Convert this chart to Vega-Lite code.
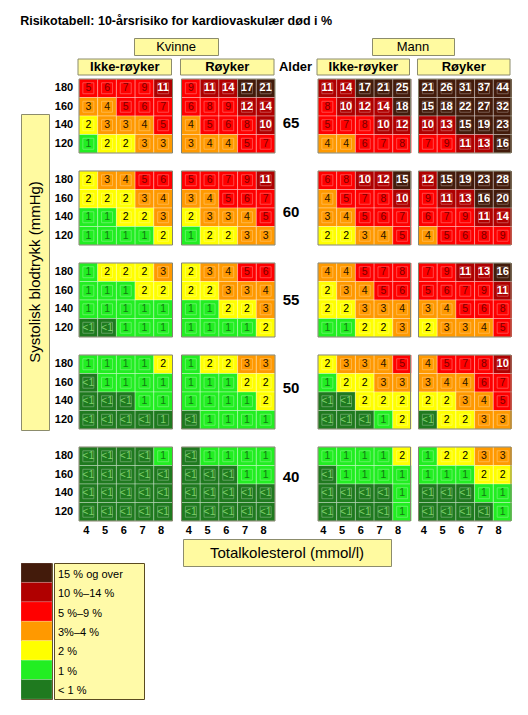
{
 "$schema": "https://vega.github.io/schema/vega-lite/v6.json",
 "padding": {"left": 20, "top": 15, "right": 0, "bottom": 0},
 "background": "white",
 "title": {"text": "Risikotabell: 10-årsrisiko for kardiovaskulær død i %", "anchor": "start", "fontSize": 12.5, "fontWeight": "bold", "font": "Liberation Sans", "offset": 10, "color": "#000000"},
 "datasets": {
  "cells": [
   {"sex":"K","sm":"Ikke-røyker","age":65,"bp":180,"4":5,"5":6,"6":7,"7":9,"8":11},
   {"sex":"K","sm":"Ikke-røyker","age":65,"bp":160,"4":3,"5":4,"6":5,"7":6,"8":7},
   {"sex":"K","sm":"Ikke-røyker","age":65,"bp":140,"4":2,"5":3,"6":3,"7":4,"8":5},
   {"sex":"K","sm":"Ikke-røyker","age":65,"bp":120,"4":1,"5":2,"6":2,"7":3,"8":3},
   {"sex":"K","sm":"Ikke-røyker","age":60,"bp":180,"4":2,"5":3,"6":4,"7":5,"8":6},
   {"sex":"K","sm":"Ikke-røyker","age":60,"bp":160,"4":2,"5":2,"6":2,"7":3,"8":4},
   {"sex":"K","sm":"Ikke-røyker","age":60,"bp":140,"4":1,"5":1,"6":2,"7":2,"8":3},
   {"sex":"K","sm":"Ikke-røyker","age":60,"bp":120,"4":1,"5":1,"6":1,"7":1,"8":2},
   {"sex":"K","sm":"Ikke-røyker","age":55,"bp":180,"4":1,"5":2,"6":2,"7":2,"8":3},
   {"sex":"K","sm":"Ikke-røyker","age":55,"bp":160,"4":1,"5":1,"6":1,"7":2,"8":2},
   {"sex":"K","sm":"Ikke-røyker","age":55,"bp":140,"4":1,"5":1,"6":1,"7":1,"8":1},
   {"sex":"K","sm":"Ikke-røyker","age":55,"bp":120,"4":0,"5":0,"6":1,"7":1,"8":1},
   {"sex":"K","sm":"Ikke-røyker","age":50,"bp":180,"4":1,"5":1,"6":1,"7":1,"8":2},
   {"sex":"K","sm":"Ikke-røyker","age":50,"bp":160,"4":0,"5":1,"6":1,"7":1,"8":1},
   {"sex":"K","sm":"Ikke-røyker","age":50,"bp":140,"4":0,"5":0,"6":0,"7":1,"8":1},
   {"sex":"K","sm":"Ikke-røyker","age":50,"bp":120,"4":0,"5":0,"6":0,"7":0,"8":0.9},
   {"sex":"K","sm":"Ikke-røyker","age":40,"bp":180,"4":0,"5":0,"6":0,"7":0,"8":1},
   {"sex":"K","sm":"Ikke-røyker","age":40,"bp":160,"4":0,"5":0,"6":0,"7":0,"8":0},
   {"sex":"K","sm":"Ikke-røyker","age":40,"bp":140,"4":0,"5":0,"6":0,"7":0,"8":0},
   {"sex":"K","sm":"Ikke-røyker","age":40,"bp":120,"4":0,"5":0,"6":0,"7":0,"8":0},
   {"sex":"K","sm":"Røyker","age":65,"bp":180,"4":9,"5":11,"6":14,"7":17,"8":21},
   {"sex":"K","sm":"Røyker","age":65,"bp":160,"4":6,"5":8,"6":9,"7":12,"8":14},
   {"sex":"K","sm":"Røyker","age":65,"bp":140,"4":4,"5":5,"6":6,"7":8,"8":10},
   {"sex":"K","sm":"Røyker","age":65,"bp":120,"4":3,"5":4,"6":4,"7":5,"8":7},
   {"sex":"K","sm":"Røyker","age":60,"bp":180,"4":5,"5":6,"6":7,"7":9,"8":11},
   {"sex":"K","sm":"Røyker","age":60,"bp":160,"4":3,"5":4,"6":5,"7":6,"8":7},
   {"sex":"K","sm":"Røyker","age":60,"bp":140,"4":2,"5":3,"6":3,"7":4,"8":5},
   {"sex":"K","sm":"Røyker","age":60,"bp":120,"4":1,"5":2,"6":2,"7":3,"8":3},
   {"sex":"K","sm":"Røyker","age":55,"bp":180,"4":2,"5":3,"6":4,"7":5,"8":6},
   {"sex":"K","sm":"Røyker","age":55,"bp":160,"4":2,"5":2,"6":3,"7":3,"8":4},
   {"sex":"K","sm":"Røyker","age":55,"bp":140,"4":1,"5":1,"6":2,"7":2,"8":3},
   {"sex":"K","sm":"Røyker","age":55,"bp":120,"4":1,"5":1,"6":1,"7":1,"8":2},
   {"sex":"K","sm":"Røyker","age":50,"bp":180,"4":1,"5":2,"6":2,"7":3,"8":3},
   {"sex":"K","sm":"Røyker","age":50,"bp":160,"4":1,"5":1,"6":1,"7":2,"8":2},
   {"sex":"K","sm":"Røyker","age":50,"bp":140,"4":1,"5":1,"6":1,"7":1,"8":2},
   {"sex":"K","sm":"Røyker","age":50,"bp":120,"4":0,"5":1,"6":1,"7":1,"8":1},
   {"sex":"K","sm":"Røyker","age":40,"bp":180,"4":0,"5":1,"6":1,"7":1,"8":1},
   {"sex":"K","sm":"Røyker","age":40,"bp":160,"4":0,"5":0,"6":0,"7":1,"8":1},
   {"sex":"K","sm":"Røyker","age":40,"bp":140,"4":0,"5":0,"6":0,"7":0,"8":0},
   {"sex":"K","sm":"Røyker","age":40,"bp":120,"4":0,"5":0,"6":0,"7":0,"8":0},
   {"sex":"M","sm":"Ikke-røyker","age":65,"bp":180,"4":11,"5":14,"6":17,"7":21,"8":25},
   {"sex":"M","sm":"Ikke-røyker","age":65,"bp":160,"4":8,"5":10,"6":12,"7":14,"8":18},
   {"sex":"M","sm":"Ikke-røyker","age":65,"bp":140,"4":5,"5":7,"6":8,"7":10,"8":12},
   {"sex":"M","sm":"Ikke-røyker","age":65,"bp":120,"4":4,"5":4,"6":6,"7":7,"8":8},
   {"sex":"M","sm":"Ikke-røyker","age":60,"bp":180,"4":6,"5":8,"6":10,"7":12,"8":15},
   {"sex":"M","sm":"Ikke-røyker","age":60,"bp":160,"4":4,"5":5,"6":7,"7":8,"8":10},
   {"sex":"M","sm":"Ikke-røyker","age":60,"bp":140,"4":3,"5":4,"6":5,"7":6,"8":7},
   {"sex":"M","sm":"Ikke-røyker","age":60,"bp":120,"4":2,"5":2,"6":3,"7":4,"8":5},
   {"sex":"M","sm":"Ikke-røyker","age":55,"bp":180,"4":4,"5":4,"6":5,"7":7,"8":8},
   {"sex":"M","sm":"Ikke-røyker","age":55,"bp":160,"4":2,"5":3,"6":4,"7":5,"8":6},
   {"sex":"M","sm":"Ikke-røyker","age":55,"bp":140,"4":2,"5":2,"6":3,"7":3,"8":4},
   {"sex":"M","sm":"Ikke-røyker","age":55,"bp":120,"4":1,"5":1,"6":2,"7":2,"8":3},
   {"sex":"M","sm":"Ikke-røyker","age":50,"bp":180,"4":2,"5":3,"6":3,"7":4,"8":5},
   {"sex":"M","sm":"Ikke-røyker","age":50,"bp":160,"4":1,"5":2,"6":2,"7":3,"8":3},
   {"sex":"M","sm":"Ikke-røyker","age":50,"bp":140,"4":0,"5":0,"6":2,"7":2,"8":2},
   {"sex":"M","sm":"Ikke-røyker","age":50,"bp":120,"4":0,"5":0,"6":0,"7":1,"8":2},
   {"sex":"M","sm":"Ikke-røyker","age":40,"bp":180,"4":1,"5":1,"6":1,"7":1,"8":2},
   {"sex":"M","sm":"Ikke-røyker","age":40,"bp":160,"4":0,"5":1,"6":1,"7":1,"8":1},
   {"sex":"M","sm":"Ikke-røyker","age":40,"bp":140,"4":0,"5":0,"6":0,"7":0,"8":1},
   {"sex":"M","sm":"Ikke-røyker","age":40,"bp":120,"4":0,"5":0,"6":0,"7":0,"8":1},
   {"sex":"M","sm":"Røyker","age":65,"bp":180,"4":21,"5":26,"6":31,"7":37,"8":44},
   {"sex":"M","sm":"Røyker","age":65,"bp":160,"4":15,"5":18,"6":22,"7":27,"8":32},
   {"sex":"M","sm":"Røyker","age":65,"bp":140,"4":10,"5":13,"6":15,"7":19,"8":23},
   {"sex":"M","sm":"Røyker","age":65,"bp":120,"4":7,"5":9,"6":11,"7":13,"8":16},
   {"sex":"M","sm":"Røyker","age":60,"bp":180,"4":12,"5":15,"6":19,"7":23,"8":28},
   {"sex":"M","sm":"Røyker","age":60,"bp":160,"4":9,"5":11,"6":13,"7":16,"8":20},
   {"sex":"M","sm":"Røyker","age":60,"bp":140,"4":6,"5":7,"6":9,"7":11,"8":14},
   {"sex":"M","sm":"Røyker","age":60,"bp":120,"4":4,"5":5,"6":6,"7":8,"8":9},
   {"sex":"M","sm":"Røyker","age":55,"bp":180,"4":7,"5":9,"6":11,"7":13,"8":16},
   {"sex":"M","sm":"Røyker","age":55,"bp":160,"4":5,"5":6,"6":7,"7":9,"8":11},
   {"sex":"M","sm":"Røyker","age":55,"bp":140,"4":3,"5":4,"6":5,"7":6,"8":8},
   {"sex":"M","sm":"Røyker","age":55,"bp":120,"4":2,"5":3,"6":3,"7":4,"8":5},
   {"sex":"M","sm":"Røyker","age":50,"bp":180,"4":4,"5":5,"6":7,"7":8,"8":10},
   {"sex":"M","sm":"Røyker","age":50,"bp":160,"4":3,"5":4,"6":4,"7":6,"8":7},
   {"sex":"M","sm":"Røyker","age":50,"bp":140,"4":2,"5":2,"6":3,"7":4,"8":5},
   {"sex":"M","sm":"Røyker","age":50,"bp":120,"4":0,"5":2,"6":2,"7":3,"8":3},
   {"sex":"M","sm":"Røyker","age":40,"bp":180,"4":1,"5":2,"6":2,"7":3,"8":3},
   {"sex":"M","sm":"Røyker","age":40,"bp":160,"4":1,"5":1,"6":1,"7":2,"8":2},
   {"sex":"M","sm":"Røyker","age":40,"bp":140,"4":0,"5":0,"6":0,"7":1,"8":1},
   {"sex":"M","sm":"Røyker","age":40,"bp":120,"4":0,"5":0,"6":0,"7":0,"8":1}
  ],
  "legend": [
   {"risk": 15, "label": "15 % og over"},
   {"risk": 10, "label": "10 %–14 %"},
   {"risk": 5, "label": "5 %–9 %"},
   {"risk": 3, "label": "3%–4 %"},
   {"risk": 2, "label": "2 %"},
   {"risk": 1, "label": "1 %"},
   {"risk": 0, "label": "< 1 %"}
  ]
 },
 "spacing": 2,
 "vconcat": [
  {
   "spacing": 0,
   "hconcat": [
    {"width": 112, "height": 17, "data": {"values": [{}]}, "mark": "text", "encoding": {"text": {"value": ""}}},
    {"width": 84, "height": 17, "data": {"values": [{"t": "Kvinne"}]}, "view": {"fill": "#fffaa0", "stroke": "#8c8c6c"},
     "mark": {"type": "text", "font": "Liberation Sans", "fontSize": 13, "baseline": "middle", "align": "center", "color": "#000000"},
     "encoding": {"text": {"field": "t"}}},
    {"width": 152, "height": 17, "data": {"values": [{}]}, "mark": "text", "encoding": {"text": {"value": ""}}},
    {"width": 82, "height": 17, "data": {"values": [{"t": "Mann"}]}, "view": {"fill": "#fffaa0", "stroke": "#8c8c6c"},
     "mark": {"type": "text", "font": "Liberation Sans", "fontSize": 13, "baseline": "middle", "align": "center", "color": "#000000"},
     "encoding": {"text": {"field": "t"}}}
   ]
  },
  {
   "spacing": 0,
   "hconcat": [
    {"width": 56, "height": 16, "data": {"values": [{}]}, "mark": "text", "encoding": {"text": {"value": ""}}},
    {"width": 196, "height": 16, "data": {"values": [{"sm": "Ikke-røyker"}, {"sm": "Røyker"}]},
     "encoding": {"x": {"field": "sm", "type": "nominal", "scale": {"domain": ["Ikke-røyker", "Røyker"], "paddingInner": 0.0878, "paddingOuter": 0}, "axis": null}},
     "layer": [
      {"mark": {"type": "rect", "fill": "#fffaa0", "stroke": "#8c8c6c", "strokeWidth": 1}},
      {"mark": {"type": "text", "font": "Liberation Sans", "fontSize": 13, "fontWeight": "bold", "baseline": "middle", "color": "#000000"}, "encoding": {"text": {"field": "sm"}}}
     ]},
    {"width": 41, "height": 16, "data": {"values": [{"t": "Alder"}]},
     "mark": {"type": "text", "font": "Liberation Sans", "fontSize": 13, "fontWeight": "bold", "baseline": "middle", "align": "center", "color": "#000000"},
     "encoding": {"text": {"field": "t"}}},
    {"width": 193, "height": 16, "data": {"values": [{"sm": "Ikke-røyker"}, {"sm": "Røyker"}]},
     "encoding": {"x": {"field": "sm", "type": "nominal", "scale": {"domain": ["Ikke-røyker", "Røyker"], "paddingInner": 0.0796, "paddingOuter": 0}, "axis": null}},
     "layer": [
      {"mark": {"type": "rect", "fill": "#fffaa0", "stroke": "#8c8c6c", "strokeWidth": 1}},
      {"mark": {"type": "text", "font": "Liberation Sans", "fontSize": 13, "fontWeight": "bold", "baseline": "middle", "color": "#000000"}, "encoding": {"text": {"field": "sm"}}}
     ]}
   ]
  },
  {
   "spacing": 0,
   "hconcat": [
    {"spacing": 0, "vconcat": [
      {"width": 28, "height": 34, "data": {"values": [{}]}, "mark": "text", "encoding": {"text": {"value": ""}}},
      {"width": 28, "height": 316, "data": {"values": [{"t": "Systolisk blodtrykk (mmHg)"}]}, "view": {"fill": "#fffaa0", "stroke": "#8c8c6c"},
       "mark": {"type": "text", "font": "Liberation Sans", "fontSize": 15, "angle": 270, "baseline": "middle", "align": "center", "color": "#000000"},
       "encoding": {"text": {"field": "t"}}}
    ]},
    {"width": 28, "height": 442, "data": {"name": "cells"},
     "transform": [{"filter": "datum.sex == 'K' && datum.sm == 'Ikke-røyker'"}],
     "mark": {"type": "text", "font": "Liberation Sans", "fontSize": 11, "fontWeight": "bold", "baseline": "middle", "color": "#000000"},
     "encoding": {
      "y": {"field": "age", "type": "ordinal", "scale": {"domain": [65, 60, 55, 50, 40], "paddingInner": 0.19565, "paddingOuter": 0}, "axis": null},
      "yOffset": {"field": "bp", "type": "ordinal", "scale": {"domain": [180, 160, 140, 120], "paddingInner": 0, "paddingOuter": 0}},
      "text": {"field": "bp"}
     }},
    {"width": 196, "height": 442, "data": {"name": "cells"},
     "transform": [{"filter": "datum.sex == 'K'"}, {"fold": ["4", "5", "6", "7", "8"], "as": ["chol", "risk"]}],
     "layer": [
      {"encoding": {
        "x": {"field": "sm", "type": "nominal", "scale": {"domain": ["Ikke-røyker", "Røyker"], "paddingInner": 0.0878, "paddingOuter": 0}, "axis": null},
        "xOffset": {"field": "chol", "type": "nominal", "scale": {"domain": ["4", "5", "6", "7", "8"], "paddingInner": 0, "paddingOuter": 0}},
        "y": {"field": "age", "type": "ordinal", "scale": {"domain": [65, 60, 55, 50, 40], "paddingInner": 0.19565, "paddingOuter": 0}, "axis": null},
        "yOffset": {"field": "bp", "type": "ordinal", "scale": {"domain": [180, 160, 140, 120], "paddingInner": 0, "paddingOuter": 0}}
       },
       "layer": [
        {"mark": {"type": "rect", "stroke": "#ffffff", "strokeOpacity": 0.45, "strokeWidth": 0.7},
         "encoding": {"fill": {"field": "risk", "type": "quantitative", "scale": {"type": "threshold", "domain": [1, 2, 3, 5, 10, 15], "range": ["#1f7a1f", "#22ee22", "#ffff00", "#ff9900", "#ff0000", "#b00000", "#431b0b"]}, "legend": null}}},
        {"mark": {"type": "point", "shape": "square", "size": 120, "filled": false, "color": "#ffffff", "opacity": 0.35, "strokeWidth": 0.8}},
        {"transform": [{"filter": "datum.risk < 10"}],
         "mark": {"type": "text", "font": "Liberation Sans", "fontSize": 10.5, "baseline": "middle"},
         "encoding": {
          "text": {"condition": {"test": "datum.risk == 0", "value": "<1"}, "field": "risk", "type": "quantitative", "format": ".0f"},
          "color": {"field": "risk", "type": "quantitative", "scale": {"type": "threshold", "domain": [1, 2, 3, 5, 10], "range": ["#7ccf6a", "#137a13", "#000000", "#2a1500", "#7a0000", "#ffffff"]}, "legend": null}
         }},
        {"transform": [{"filter": "datum.risk >= 10"}],
         "mark": {"type": "text", "font": "Liberation Sans", "fontSize": 11, "fontWeight": "bold", "baseline": "middle", "color": "#ffffff"},
         "encoding": {"text": {"field": "risk", "type": "quantitative", "format": ".0f"}}}
       ]},
      {"transform": [{"aggregate": [{"op": "count", "as": "n"}], "groupby": ["sm", "age"]}],
       "mark": {"type": "rect", "fill": "#ffffff", "fillOpacity": 0, "stroke": "#85856f", "strokeWidth": 1},
       "encoding": {
        "x": {"field": "sm", "type": "nominal", "scale": {"domain": ["Ikke-røyker", "Røyker"], "paddingInner": 0.0878, "paddingOuter": 0}, "axis": null},
        "y": {"field": "age", "type": "ordinal", "scale": {"domain": [65, 60, 55, 50, 40], "paddingInner": 0.19565, "paddingOuter": 0}, "axis": null}
       }}
     ]},
    {"width": 30, "height": 442, "data": {"name": "cells"},
     "transform": [{"filter": "datum.sex == 'K' && datum.sm == 'Ikke-røyker' && datum.bp == 180"}],
     "mark": {"type": "text", "font": "Liberation Sans", "fontSize": 15, "fontWeight": "bold", "baseline": "middle", "color": "#000000"},
     "encoding": {
      "y": {"field": "age", "type": "ordinal", "scale": {"domain": [65, 60, 55, 50, 40], "paddingInner": 0.19565, "paddingOuter": 0}, "axis": null},
      "text": {"field": "age"}
     }},
    {"width": 11, "height": 442, "data": {"values": [{}]}, "mark": "text", "encoding": {"text": {"value": ""}}},
    {"width": 193, "height": 442, "data": {"name": "cells"},
     "transform": [{"filter": "datum.sex == 'M'"}, {"fold": ["4", "5", "6", "7", "8"], "as": ["chol", "risk"]}],
     "layer": [
      {"encoding": {
        "x": {"field": "sm", "type": "nominal", "scale": {"domain": ["Ikke-røyker", "Røyker"], "paddingInner": 0.0796, "paddingOuter": 0}, "axis": null},
        "xOffset": {"field": "chol", "type": "nominal", "scale": {"domain": ["4", "5", "6", "7", "8"], "paddingInner": 0, "paddingOuter": 0}},
        "y": {"field": "age", "type": "ordinal", "scale": {"domain": [65, 60, 55, 50, 40], "paddingInner": 0.19565, "paddingOuter": 0}, "axis": null},
        "yOffset": {"field": "bp", "type": "ordinal", "scale": {"domain": [180, 160, 140, 120], "paddingInner": 0, "paddingOuter": 0}}
       },
       "layer": [
        {"mark": {"type": "rect", "stroke": "#ffffff", "strokeOpacity": 0.45, "strokeWidth": 0.7},
         "encoding": {"fill": {"field": "risk", "type": "quantitative", "scale": {"type": "threshold", "domain": [1, 2, 3, 5, 10, 15], "range": ["#1f7a1f", "#22ee22", "#ffff00", "#ff9900", "#ff0000", "#b00000", "#431b0b"]}, "legend": null}}},
        {"mark": {"type": "point", "shape": "square", "size": 120, "filled": false, "color": "#ffffff", "opacity": 0.35, "strokeWidth": 0.8}},
        {"transform": [{"filter": "datum.risk < 10"}],
         "mark": {"type": "text", "font": "Liberation Sans", "fontSize": 10.5, "baseline": "middle"},
         "encoding": {
          "text": {"condition": {"test": "datum.risk == 0", "value": "<1"}, "field": "risk", "type": "quantitative", "format": ".0f"},
          "color": {"field": "risk", "type": "quantitative", "scale": {"type": "threshold", "domain": [1, 2, 3, 5, 10], "range": ["#7ccf6a", "#137a13", "#000000", "#2a1500", "#7a0000", "#ffffff"]}, "legend": null}
         }},
        {"transform": [{"filter": "datum.risk >= 10"}],
         "mark": {"type": "text", "font": "Liberation Sans", "fontSize": 11, "fontWeight": "bold", "baseline": "middle", "color": "#ffffff"},
         "encoding": {"text": {"field": "risk", "type": "quantitative", "format": ".0f"}}}
       ]},
      {"transform": [{"aggregate": [{"op": "count", "as": "n"}], "groupby": ["sm", "age"]}],
       "mark": {"type": "rect", "fill": "#ffffff", "fillOpacity": 0, "stroke": "#85856f", "strokeWidth": 1},
       "encoding": {
        "x": {"field": "sm", "type": "nominal", "scale": {"domain": ["Ikke-røyker", "Røyker"], "paddingInner": 0.0796, "paddingOuter": 0}, "axis": null},
        "y": {"field": "age", "type": "ordinal", "scale": {"domain": [65, 60, 55, 50, 40], "paddingInner": 0.19565, "paddingOuter": 0}, "axis": null}
       }}
     ]}
   ]
  },
  {
   "spacing": 0,
   "hconcat": [
    {"width": 56, "height": 9, "data": {"values": [{}]}, "mark": "text", "encoding": {"text": {"value": ""}}},
    {"width": 196, "height": 9, "data": {"name": "cells"},
     "transform": [{"filter": "datum.sex == 'K' && datum.age == 40 && datum.bp == 120"}, {"fold": ["4", "5", "6", "7", "8"], "as": ["chol", "risk"]}],
     "mark": {"type": "text", "font": "Liberation Sans", "fontSize": 11, "fontWeight": "bold", "baseline": "middle", "color": "#000000"},
     "encoding": {
      "x": {"field": "sm", "type": "nominal", "scale": {"domain": ["Ikke-røyker", "Røyker"], "paddingInner": 0.0878, "paddingOuter": 0}, "axis": null},
      "xOffset": {"field": "chol", "type": "nominal", "scale": {"domain": ["4", "5", "6", "7", "8"], "paddingInner": 0, "paddingOuter": 0}},
      "text": {"field": "chol"}
     }},
    {"width": 41, "height": 9, "data": {"values": [{}]}, "mark": "text", "encoding": {"text": {"value": ""}}},
    {"width": 193, "height": 9, "data": {"name": "cells"},
     "transform": [{"filter": "datum.sex == 'M' && datum.age == 40 && datum.bp == 120"}, {"fold": ["4", "5", "6", "7", "8"], "as": ["chol", "risk"]}],
     "mark": {"type": "text", "font": "Liberation Sans", "fontSize": 11, "fontWeight": "bold", "baseline": "middle", "color": "#000000"},
     "encoding": {
      "x": {"field": "sm", "type": "nominal", "scale": {"domain": ["Ikke-røyker", "Røyker"], "paddingInner": 0.0796, "paddingOuter": 0}, "axis": null},
      "xOffset": {"field": "chol", "type": "nominal", "scale": {"domain": ["4", "5", "6", "7", "8"], "paddingInner": 0, "paddingOuter": 0}},
      "text": {"field": "chol"}
     }}
   ]
  },
  {
   "spacing": 0,
   "hconcat": [
    {"spacing": 0, "vconcat": [
      {"width": 121, "height": 23, "data": {"values": [{}]}, "mark": "text", "encoding": {"text": {"value": ""}}},
      {"spacing": 0, "hconcat": [
        {"width": 31, "height": 136, "data": {"name": "legend"}, "view": {"stroke": "#5a4a20"},
         "mark": {"type": "rect", "stroke": "#ffffff", "strokeOpacity": 0.25, "strokeWidth": 0.7},
         "encoding": {
          "y": {"field": "risk", "type": "ordinal", "sort": "descending", "scale": {"paddingInner": 0, "paddingOuter": 0}, "axis": null},
          "fill": {"field": "risk", "type": "quantitative", "scale": {"type": "threshold", "domain": [1, 2, 3, 5, 10, 15], "range": ["#1f7a1f", "#22ee22", "#ffff00", "#ff9900", "#ff0000", "#b00000", "#431b0b"]}, "legend": null}
         }},
        {"width": 90, "height": 136, "data": {"name": "legend"}, "view": {"fill": "#fffaa8", "stroke": "#5a4a20"},
         "mark": {"type": "text", "font": "Liberation Sans", "fontSize": 11, "align": "left", "baseline": "middle", "dy": 2, "color": "#000000"},
         "encoding": {
          "y": {"field": "risk", "type": "ordinal", "sort": "descending", "scale": {"paddingInner": 0, "paddingOuter": 0}, "axis": null},
          "x": {"datum": 4, "type": "quantitative", "scale": {"domain": [0, 90]}, "axis": null},
          "text": {"field": "label"}
         }}
      ]}
    ]},
    {"width": 37, "height": 27, "data": {"values": [{}]}, "mark": "text", "encoding": {"text": {"value": ""}}},
    {"width": 208, "height": 27, "data": {"values": [{"t": "Totalkolesterol (mmol/l)"}]}, "view": {"fill": "#fffaa0", "stroke": "#8c8c6c"},
     "mark": {"type": "text", "font": "Liberation Sans", "fontSize": 15, "baseline": "middle", "align": "center", "color": "#000000"},
     "encoding": {"text": {"field": "t"}}}
   ]
  }
 ],
 "config": {
  "view": {"stroke": null},
  "font": "Liberation Sans",
  "text": {"font": "Liberation Sans"}
 }
}
